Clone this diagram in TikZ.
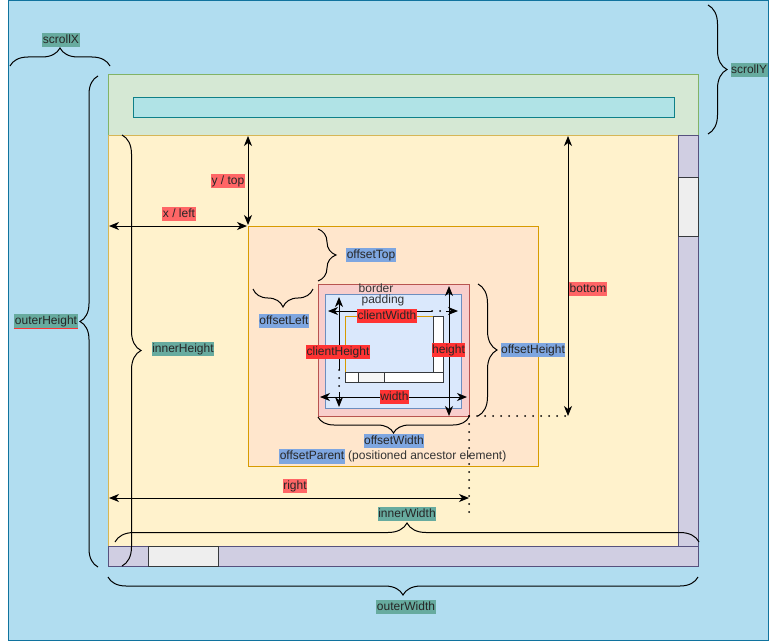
\documentclass[tikz,border=0pt]{standalone}
\usepackage{fontspec}
\setmainfont{Liberation Sans}
\usetikzlibrary{arrows.meta,decorations.pathreplacing,positioning}

\definecolor{screenfill}{HTML}{B1DDF0}
\definecolor{screenline}{HTML}{10739E}
\definecolor{headfill}{HTML}{D5E8D4}
\definecolor{headline}{HTML}{82B366}
\definecolor{addrfill}{HTML}{B0E3E6}
\definecolor{addrline}{HTML}{0E8088}
\definecolor{pagefill}{HTML}{FFF2CC}
\definecolor{pageline}{HTML}{D6B656}
\definecolor{barfill}{HTML}{D0CEE2}
\definecolor{barline}{HTML}{56517E}
\definecolor{thumbfill}{HTML}{EEEEEE}
\definecolor{thumbline}{HTML}{36393D}
\definecolor{parentfill}{HTML}{FFE6CC}
\definecolor{parentline}{HTML}{D79B00}
\definecolor{borderfill}{HTML}{F8CECC}
\definecolor{borderline}{HTML}{B85450}
\definecolor{padfill}{HTML}{DAE8FC}
\definecolor{padline}{HTML}{6C8EBF}
\definecolor{lred}{HTML}{FF6666}
\definecolor{hred}{HTML}{FF3333}
\definecolor{lblue}{HTML}{7EA6E0}
\definecolor{lteal}{HTML}{67AB9F}
\definecolor{txt}{HTML}{333333}

\begin{document}
\begin{tikzpicture}[x=1pt, y=-1pt, line width=1pt, >={Stealth[length=10pt,width=8pt,inset=3pt]},
		lab/.style={inner xsep=0.5pt, inner ysep=1pt, text height=9.5pt, text depth=3pt,
			font=\fontsize{12pt}{14pt}\selectfont, text=black!85},
		redlab/.style={lab, fill=lred},
		hotlab/.style={lab, fill=hred},
		bluelab/.style={lab, fill=lblue},
		teallab/.style={lab, fill=lteal},
		plainlab/.style={lab, text=txt},
		brc/.style={decorate, decoration={brace, amplitude=#1}},
		brc/.default=18pt,
		dotline/.style={dash pattern=on 0pt off 8pt, line cap=round, line width=2pt}]
		\useasboundingbox (0,0) rectangle (779,642);
		
		% screen, window and page
		\draw[fill=screenfill, draw=screenline] (8,0.5) rectangle (768.5,640);
		\draw[fill=headfill, draw=headline] (108,75) rectangle (698,135);
		\draw[fill=addrfill, draw=addrline] (133,97) rectangle (674,117);
		\draw[fill=pagefill, draw=pageline] (108,135) rectangle (698,566);
		\draw[fill=barfill, draw=barline] (678,135) rectangle (698,546);
		\draw[fill=barfill, draw=barline] (108,546) rectangle (698,566);
		\draw[fill=thumbfill, draw=thumbline] (678,177) rectangle (698,236);
		\draw[fill=thumbfill, draw=thumbline] (148,546) rectangle (218,566);
		
		% offsetParent and the element
		\draw[fill=parentfill, draw=parentline] (248,226) rectangle (538,466);
		\draw[fill=borderfill, draw=borderline] (318,284) rectangle (469,416);
		\draw[fill=padfill, draw=padline] (325,294) rectangle (461,408);
		\draw[parentline] (345,372) -- (345,316) -- (433,316);
		\draw[fill=white, draw=thumbline] (433,316) rectangle (443,372);
		\draw[fill=white, draw=thumbline] (345,372) rectangle (443,382);
		\draw[fill=thumbfill!60!white, draw=thumbline] (358,372) rectangle (384,382);
		
		% braces
		\draw[brc] (10,66) -- (110,66);
		\draw[brc=19pt] (708,5) -- (708,134);
		\draw[brc] (98,567) -- (98,76);
		\draw[brc=19pt] (122,135) -- (122,566);
		\draw[brc=19pt] (115,542) -- (699,542);
		\draw[brc] (698,577) -- (108,577);
		\draw[brc] (318,229) -- (318,281);
		\draw[brc] (313,289) -- (253,289);
		\draw[brc=19pt] (478,284) -- (478,416);
		\draw[brc=16pt] (469,417) -- (318,417);
		
		% measures
		\coordinate (left1) at (109,226);
		\coordinate (left2) at (247,226);
		\coordinate (top1) at (248,136);
		\coordinate (top2) at (248,225);
		\coordinate (bot1) at (568,136);
		\coordinate (bot2) at (568,416);
		\coordinate (right1) at (109,498);
		\coordinate (right2) at (469,498);
		\coordinate (wid1) at (320,397);
		\coordinate (wid2) at (467,397);
		\coordinate (hgt1) at (449,286);
		\coordinate (hgt2) at (449,416);
		\coordinate (cw1) at (328,311);
		\coordinate (cw2) at (432,311);
		\coordinate (cw3) at (446,311);
		\coordinate (cw4) at (458,311);
		\coordinate (ch1) at (339,297);
		\coordinate (ch2) at (339,370);
		\coordinate (ch3) at (339,392);
		\coordinate (ch4) at (339,407);
		\coordinate (corner) at (469,416);
		\coordinate (hend) at (566,416);
		\coordinate (vend) at (469,514);
		
		\draw[<->] (left1) -- (left2);
		\draw[<->] (top1) -- (top2);
		\draw[<->] (bot1) -- (bot2);
		\draw[<->] (right1) -- (right2);
		\draw[<->] (wid1) -- (wid2);
		\draw[<->] (hgt1) -- (hgt2);
		\draw[<-] (cw1) -- (cw2);
		\draw[dotline] (cw2) -- (cw3);
		\draw[->] (cw3) -- (cw4);
		\draw[<-] (ch1) -- (ch2);
		\draw[dotline] (ch2) -- (ch3);
		\draw[->] (ch3) -- (ch4);
		\draw[dotline] (corner) -- (hend);
		\draw[dotline] (corner) -- (vend);
		
		% labels
		\node[teallab] (scrx) at (61,40) {scrollX};
		\node[teallab] (scry) at (749,70) {scrollY};
		\node[teallab] (outh) at (46,321) {outerHeight};
		\draw[red!80] (outh.south west) -- (outh.south east);
		\node[teallab] (innh) at (183,349) {innerHeight};
		\node[teallab] (innw) at (407,514) {innerWidth};
		\node[teallab] (outw) at (406,607) {outerWidth};
		\node[redlab] (ytop) at (228,181) {y / top};
		\node[redlab] (xleft) at (179,214) {x / left};
		\node[redlab] (bottom) at (588,289) {bottom};
		\node[redlab] (rght) at (295,486) {right};
		\node[bluelab] (otop) at (371,255) {offsetTop};
		\node[bluelab] (oleft) at (284,321) {offsetLeft};
		\node[bluelab] (ohgt) at (533,350) {offsetHeight};
		\node[bluelab] (owid) at (394,441) {offsetWidth};
		\node[bluelab] (opar) at (312,456.5) {offsetParent};
		\node[plainlab, right=2pt of opar] (anc) {(positioned ancestor element)};
		\node[plainlab] (brd) at (376,289) {border};
		\node[plainlab] (pad) at (383,300) {padding};
		\node[hotlab] (cwid) at (387,316) {clientWidth};
		\node[hotlab] (chgt) at (338,352) {clientHeight};
		\node[hotlab] (hgt) at (448.5,350) {height};
		\node[hotlab] (wid) at (394.5,397) {width};
\end{tikzpicture}
\end{document}
